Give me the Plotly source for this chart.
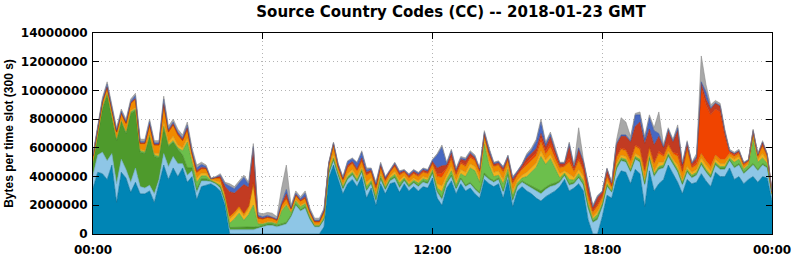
import plotly.graph_objects as go

# Values in millions of bytes per 300 s slot, sampled every 10 minutes (00:00 .. 24:00)
slot_minutes = 10
tick_hours = [0, 6, 12, 18, 24]
tick_labels = ["00:00", "06:00", "12:00", "18:00", "00:00"]
y_ticks = [0, 2000000, 4000000, 6000000, 8000000, 10000000, 12000000, 14000000]

teal = [3.2,4.3,4.2,3.8,4.8,2.2,4.3,3.9,2.9,3.6,2.8,2.8,
        3.0,2.2,3.5,4.8,3.8,4.6,4.0,4.6,3.6,4.0,2.4,3.3,
        3.4,3.5,3.3,3.0,2.0,0,0,0,0,0,0,0,
        0,0,0,0,0,0,0,0,0,0,0,0,
        0,0.5,3.9,4.8,3.8,2.8,3.5,3.8,3.3,4.0,2.5,3.2,
        2.0,3.5,2.8,3.5,3.6,2.9,3.5,3.0,3.3,3.0,3.3,3.2,
        3.9,2.5,2.0,3.2,3.7,2.8,3.5,3.0,3.2,2.8,2.5,3.8,
        3.5,3.3,3.5,2.5,3.8,1.9,3.0,3.3,3.0,2.8,2.5,2.3,
        2.6,2.8,3.0,3.3,3.8,3.0,3.2,3.5,3.0,1.0,0,0,
        1.2,2.7,2.5,3.8,4.4,4.3,3.5,4.5,4.2,1.9,4.4,3.0,
        3.5,3.8,4.8,4.2,3.6,2.8,3.8,3.5,3.6,4.2,3.7,3.3,
        4.3,4.0,4.0,4.6,3.8,4.0,3.5,3.8,4.0,3.6,4.0,3.9,
        2.3]
light_blue = [.9,1.2,1.5,1.3,.8,1.3,.9,.6,.7,1.0,.5,.4,
              .4,.6,.3,.8,.9,.8,.9,.3,.5,.4,.5,.4,
              .3,.15,.2,.2,.2,.3,.3,.3,.3,.3,.3,.4,
              .5,.6,.6,.5,.6,.7,1.2,2.0,1.6,1.8,1.0,.5,
              .5,.5,.3,.3,.25,.3,.3,.3,.3,.3,.5,.3,
              .3,.3,.25,.2,.3,.3,.2,.25,.25,.3,.3,.3,
              .3,.4,.4,.3,.3,.3,.3,.3,.3,.3,.3,.3,
              .3,.3,.3,.4,.3,.4,.3,.3,.4,.4,.5,.5,
              .5,.5,.4,.3,.25,.4,.3,.4,.4,.8,.8,1.0,
              .7,.6,.4,.7,.7,.7,.8,.7,.8,1.5,.8,1.0,
              1.0,.8,.6,.6,.7,.6,.5,.4,.5,.6,.6,.6,
              .5,.5,.5,.5,.8,.8,.7,.7,.8,.8,.8,.7,
              .4]
green = [.8,1.2,3.0,4.6,2.6,3.0,2.6,2.5,4.8,4.0,2.4,2.4,
         3.4,2.6,1.5,1.8,1.4,1.0,1.0,.6,.5,.2,.2,.15,
         .15,.05,.05,.1,.1,.15,.15,.15,.15,.15,.2,.1,
         .1,.1,.1,.1,.1,.1,.1,.1,.1,.1,.1,.05,
         .05,.05,.05,.1,.1,.1,.1,.1,.1,.1,.1,.1,
         .1,.1,.1,.1,.1,.15,.1,.1,.1,.1,.1,.1,
         .1,.1,.15,.1,.1,.1,.1,.1,.1,.1,.1,.15,
         .1,.1,.1,.1,.1,.1,.1,.1,.1,.15,.15,.2,
         .15,.15,.15,.1,.1,.1,.1,.1,.1,.1,.1,.15,
         .1,.1,.05,.1,.1,.1,.1,.1,.1,.1,.1,.1,
         .1,.1,.1,.1,.1,.1,.1,.1,.1,.1,.1,.1,
         .1,.1,.1,.1,.1,.1,.1,.1,.1,.1,.1,.1,
         .05]
light_green = [.1,.1,.1,.1,.1,.1,.1,.1,.1,.1,.1,.1,
               .1,.1,.1,.1,.1,.1,.1,.3,1.8,.5,.5,.2,
               .2,.05,.05,.1,.1,.3,.6,1.0,.5,.9,1.5,.2,
               .1,.1,.1,.1,.9,1.2,.2,.2,.2,.2,.1,.05,
               .05,.1,.1,.1,.1,.1,.1,.1,.1,.1,.2,.1,
               .2,.15,.1,.1,.15,.2,.1,.1,.1,.15,.15,.15,
               .15,.2,.4,.2,.3,.2,.3,.6,1.0,1.2,.7,2.0,
               .9,.3,.2,.5,.3,.3,.15,.2,.5,1.0,1.5,2.4,
               1.6,1.8,1.0,.2,.1,.3,.15,.2,.2,.2,.15,.2,
               .1,.1,.05,.1,.1,.1,.1,.1,.1,.1,.1,.1,
               .1,.1,.1,.1,.1,.1,.1,.1,.1,.1,.1,.1,
               .1,.1,.1,.1,.3,.3,.2,.2,1.7,.5,.4,.2,
               .05]
gold = [.1,.1,.1,.1,.1,.1,.1,.1,.1,.1,.1,.1,
        .1,.1,.2,.3,.2,.3,.2,.2,.3,.2,.3,.2,
        .2,.05,.1,.2,.2,.3,.3,.3,.3,.4,1.4,.1,
        .05,.05,.05,.05,.1,.1,.05,.1,.1,.1,.1,.05,
        .05,.1,.2,.3,.15,.15,.2,.2,.2,.2,.3,.2,
        .2,.2,.15,.15,.2,.2,.15,.15,.15,.15,.15,.15,
        .15,.3,.4,.3,.3,.3,.3,.3,.3,.3,.3,.3,
        .3,.3,.3,.3,.3,.3,.2,.2,.3,.3,.3,.4,
        .3,.3,.3,.3,.15,.4,.2,.3,.3,.2,.15,.2,
        .15,.2,.1,.2,.2,.2,.2,.2,.2,.3,.2,.2,
        .3,.2,.2,.2,.3,.2,.2,.2,.2,.3,.3,.3,
        .2,.2,.2,.1,.2,.2,.1,.1,.2,.2,.3,.2,
        .05]
orange = [.3,.4,.3,.3,.3,.4,.4,.5,.5,.6,.4,.5,
          .6,.6,.6,1.2,.7,.8,.7,.5,.6,.3,.4,.3,
          .3,.05,.2,.3,.2,.2,.2,.2,.2,.2,.2,.3,
          .3,.3,.25,.2,.3,.4,.2,.3,.3,.3,.25,.2,
          .2,.3,.3,.6,.25,.3,.4,.4,.4,.4,.5,.4,
          .4,.4,.3,.25,.35,.35,.25,.3,.3,.3,.3,.3,
          .3,.5,.6,.4,.5,.4,.4,.4,.4,.4,.4,.3,
          .4,.4,.4,.5,.4,.5,.35,.4,.5,.5,.5,.6,
          .4,.5,.4,.4,.3,.8,.4,.6,.4,.4,.3,.4,
          .3,.3,.2,.4,.4,.4,.4,.5,.5,.5,.4,.5,
          .6,.4,.4,.4,.6,.5,1.2,.3,.3,.3,.3,.3,
          .3,.3,.3,.2,.2,.2,.2,.15,.2,.2,.5,.3,
          .05]
orange_red = [0,0,0,0,0,0,0,0,0,0,0,0,
              0,0,0,0,0,0,0,0,0,0,0,0,
              0,0,0,0,0,0,0,0,0,0,0,0,
              0,0,0,0,0,0,0,0,0,0,0,0,
              0,0,0,0,.05,.05,.1,.05,.05,.05,.05,.05,
              .05,.05,.05,.05,.05,.05,.05,.05,.05,.05,.05,.05,
              .05,.2,.3,.1,.15,.1,.1,.1,.1,.1,.1,.05,
              .1,.05,.05,.1,.05,.1,.05,.1,.2,.2,.2,.3,
              .2,.3,.2,.1,.05,.3,.1,.2,.1,.1,.1,.1,
              .1,.1,.05,.1,.1,.1,.1,.1,.1,.1,.1,.1,
              .2,.1,.1,.1,.2,.1,.1,.1,.2,4.6,3.9,3.6,
              3.2,3.3,1.6,.1,.1,.1,.05,.05,.1,.05,.1,.05,
              0]
dark_red = [.05,.05,.05,.05,.05,.05,.05,.05,.05,.05,.05,.05,
            .05,.05,.05,.1,.1,.1,.1,.1,.1,.1,.1,.1,
            .05,0,.05,.1,.5,1.7,1.3,1.2,2.0,1.3,2.4,.1,
            .05,.05,.05,.05,.1,.3,.05,.05,.05,.1,.05,.05,
            .05,.1,.05,.1,.05,.05,.1,.1,.1,.15,.15,.1,
            .15,.1,.1,.05,.1,.1,.05,.1,.1,.1,.1,.1,
            .1,.4,.5,.2,.3,.2,.2,.3,.2,.1,.1,.1,
            .1,.1,.1,.15,.1,.2,.1,.15,.3,.3,.3,.3,
            .3,.4,.3,.2,.15,.8,.2,.6,.5,.5,.25,.5,
            .25,.4,.2,.8,.8,.9,1.2,1.3,1.8,1.8,1.2,1.2,
            1.0,.5,.9,.7,1.6,.4,.3,.2,.3,.3,.4,.4,
            .4,.4,.3,.1,.1,.1,.1,.05,.1,.1,.2,.1,
            .05]
blue = [.05,.05,.1,.2,.1,.1,.1,.1,.1,.2,.1,.1,
        .2,.1,.1,.3,.1,.1,.1,.1,.2,.1,.2,.2,
        .1,0,0,.1,.2,.4,.3,.4,.5,.2,.1,.1,
        .1,.1,.05,.05,.1,.3,.05,.1,.1,.25,.05,.05,
        .05,.05,.05,.05,.1,.1,.25,.2,.4,.4,.2,.1,
        .1,.1,.1,.05,.1,.1,.05,.1,.1,.1,.1,.1,
        .1,.9,1.3,.1,.15,.1,.1,.1,.1,.1,.05,.1,
        .2,.1,.1,.1,.1,.1,.1,.1,.2,.2,.5,.8,
        .2,.2,.1,.05,.05,.2,.1,.1,.1,.1,.05,.05,
        .05,.05,0,.1,.1,.1,.1,.8,.5,.3,.8,1.0,
        .2,.1,.1,.1,.2,.1,.1,.05,.1,.1,.5,.1,
        .05,.05,.05,0,0,0,0,0,0,0,0,0,
        0]
gray = [.1,.1,.15,.15,.15,.15,.15,.15,.15,.15,.15,.15,
        .15,.15,.15,.2,.2,.2,.2,.2,.2,.2,.2,.15,
        .1,.05,.05,.1,.1,.15,.15,.15,.15,.15,.2,.2,
        .2,.2,.25,.15,1.0,1.7,.15,.15,.15,.15,.15,.15,
        .15,.1,.05,.05,.05,.05,.05,.05,.05,.1,.1,.05,
        .1,.1,.05,.05,.05,.05,.05,.05,.05,.05,.05,.05,
        .05,.1,.15,.1,.1,.1,.1,.1,.1,.1,.05,.1,
        .1,.05,.05,.05,.05,.1,.05,.05,.1,.15,.15,.2,
        .15,.15,.15,.05,.05,.1,.05,1.4,.1,.1,.1,.1,
        .05,.05,.05,.2,1.2,.9,.3,.1,.2,.2,.2,.2,
        1.5,.1,.1,.1,.2,.1,.1,.05,.2,1.8,.5,.2,
        .15,.15,.15,.1,.1,.1,.05,.05,.1,.05,.1,.05,
        .05]

series = [
    ("teal", teal, "#0085b5", "#006a91"),
    ("light_blue", light_blue, "#8ec6e6", "#6aa6c8"),
    ("green", green, "#4e9a2c", "#3c7d20"),
    ("light_green", light_green, "#6cbf4c", "#4f9c35"),
    ("gold", gold, "#f3b21c", "#c98f0d"),
    ("orange", orange, "#f08a00", "#c46e00"),
    ("orange_red", orange_red, "#f04400", "#c43600"),
    ("dark_red", dark_red, "#c23b22", "#9a2c18"),
    ("blue", blue, "#4768c2", "#34519d"),
    ("gray", gray, "#a8a8a8", "#8a8a8a"),
]

n = len(teal)
for name, vals, _, _ in series:
    assert len(vals) == n, (name, len(vals))

hours = [i * slot_minutes / 60 for i in range(n)]

fig = go.Figure()
for name, vals, fill, edge in series:
    fig.add_trace(go.Scatter(
        x=hours, y=[v * 1e6 for v in vals], name=name,
        mode="lines", stackgroup="one", fill="tonexty",
        fillcolor=fill, line=dict(color=edge, width=0.6, shape="linear"),
        showlegend=False, hoverinfo="skip"))

tick_font = dict(family="DejaVu Sans", size=12, color="black", weight="bold")
grid_style = dict(showgrid=True, gridcolor="#b4b4b4", griddash="1px,3px", gridwidth=1)
fig.update_layout(
    width=792, height=259,
    margin=dict(l=93, r=20, t=33, b=25, autoexpand=False),
    paper_bgcolor="white", plot_bgcolor="white",
    title=dict(text="<b>Source Country Codes (CC) -- 2018-01-23 GMT</b>",
               x=(451 - 93) / 679, xref="paper", xanchor="center",
               y=1 - 12 / 259, yanchor="middle",
               font=dict(family="DejaVu Sans", size=15, color="black")),
)
fig.update_xaxes(
    range=[0, 24], tickvals=tick_hours, ticktext=tick_labels,
    showline=True, linecolor="black", linewidth=1, mirror="ticks",
    ticks="inside", ticklen=6, tickcolor="black", ticklabelstandoff=5,
    tickfont=tick_font, zeroline=False, automargin=False, **grid_style)
fig.update_yaxes(
    range=[0, 14000000], tickvals=y_ticks, tickformat="d",
    showline=True, linecolor="black", linewidth=1, mirror="ticks",
    ticks="inside", ticklen=6, tickcolor="black", ticklabelstandoff=2,
    tickfont=tick_font, zeroline=False, automargin=False, **grid_style,
    title=dict(text="<b>Bytes per time slot (300 s)</b>", standoff=4,
               font=dict(family="Liberation Sans", size=12, color="black")))

fig.write_html("out.html")
